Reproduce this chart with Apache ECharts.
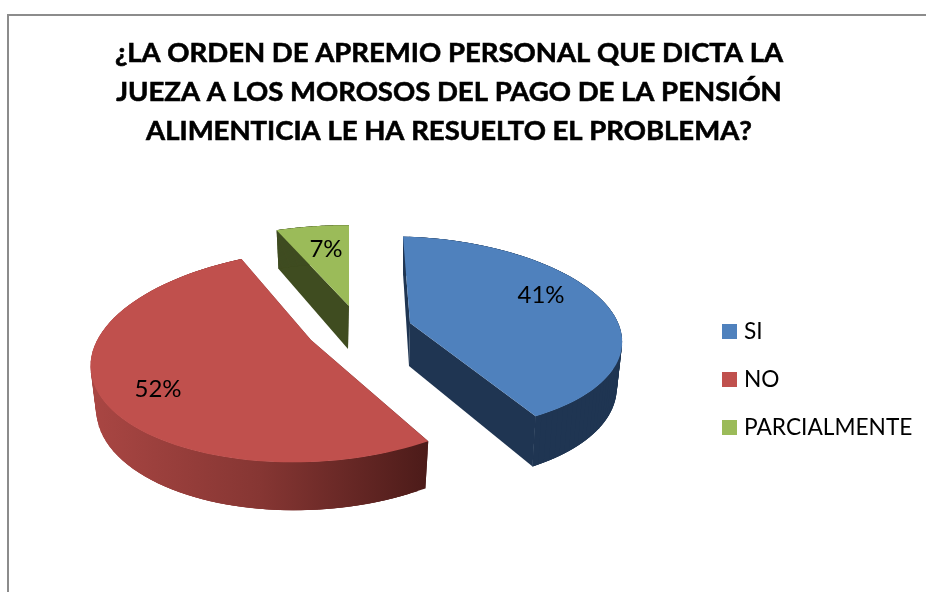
<!DOCTYPE html>
<html><head><meta charset="utf-8">
<style>html,body{margin:0;padding:0;background:#fff}#c{width:926px;height:592px}</style>
<script src="https://cdn.jsdelivr.net/npm/echarts@6/dist/echarts.min.js"></script>
</head><body><div id="c"></div>
<script>
const titleLines = ['¿LA ORDEN DE APREMIO PERSONAL QUE DICTA LA','JUEZA A LOS MOROSOS DEL PAGO DE LA PENSIÓN','ALIMENTICIA LE HA RESUELTO EL PROBLEMA?'];
const categories = ['SI','NO','PARCIALMENTE'];
const values = [41,52,7];

const total = values.reduce((a,b)=>a+b,0);
const START = 0, FONT = 'Lato, "Open Sans", sans-serif';
// projection and styling per slice
const geo = [
 {cx:410,cy:323,rx:210,ry:96,p:.11,shear:-7,tilt:5,warp:.95,d:45,top:'#4f81bd',side:'#1f3552',lx:541,ly:295},
 {cx:311,cy:340,rx:218,ry:103.6,p:.151,shear:0,tilt:-10,warp:.83,d:42,top:'#c0504d',
  side:{type:'linear',x:92,y:0,x2:428,y2:0,global:true,colorStops:[{offset:0,color:'#a94643'},{offset:.5,color:'#863633'},{offset:1,color:'#4c1b19'}]},lx:158,ly:389},
 {cx:349,cy:306,rx:222,ry:93,p:.15,shear:0,tilt:0,warp:.85,d:44,top:'#9bbb59',side:'#3f4c20',lx:326,ly:249}
];
function proj(g,theta,lower){
  let u=Math.sin(theta)*g.warp, v=Math.cos(theta);
  const n=Math.hypot(u,v); u/=n; v/=n;
  const w=1+g.p*v;
  let dx=g.rx*u/w+g.shear*v, dy=-g.ry*v/w+g.tilt*u;
  if(lower){dx*=.975; dy+=g.d-6*v;}
  return [g.cx+dx,g.cy+dy];
}
function sliceRender(i){
  return function(){
    const before=values.slice(0,i).reduce((a,b)=>a+b,0);
    const a0=(START+before/total*360)*Math.PI/180, a1=(START+(before+values[i])/total*360)*Math.PI/180;
    const g=geo[i], N=80, up=[], lo=[];
    for(let k=0;k<=N;k++){const t=a0+(a1-a0)*k/N; up.push(proj(g,t,false)); lo.push(proj(g,t,true));}
    const c=[g.cx,g.cy], cl=[g.cx-1,g.cy+43];
    const fill=g.side;
    const children=[
      {type:'polygon',shape:{points:[c,up[0],lo[0],cl]},style:{fill}},
      {type:'polygon',shape:{points:[c,up[N],lo[N],cl]},style:{fill}}
    ];
    for(let k=0;k<N;k++){
      const e=Math.min(N,k+3);
      children.push({type:'polygon',shape:{points:[up[k],up[e],lo[e],lo[k]]},style:{fill}});
    }
    children.push(
      {type:'polygon',shape:{points:[c].concat(up)},style:{fill:g.top}},
      {type:'text',style:{text:values[i]+'%',x:g.lx,y:g.ly,align:'center',verticalAlign:'middle',font:'24px '+FONT,fill:'#000'}}
    );
    return {type:'group',children};
  };
}
const chart=echarts.init(document.getElementById('c'),null,{renderer:'canvas'});
chart.setOption({
  animation:false,
  backgroundColor:'#fff',
  title:{text:titleLines.join('\n'),left:444,top:29,textAlign:'center',
    textStyle:{fontFamily:FONT,fontWeight:'bold',fontSize:27.5,lineHeight:39,color:'#000',textBorderColor:'#000',textBorderWidth:.6}},
  legend:{orient:'vertical',left:717,top:315,itemWidth:15,itemHeight:15,itemGap:25,icon:'rect',
    data:categories,textStyle:{fontFamily:FONT,fontSize:22.7,color:'#000',padding:[0,0,0,2]}},
  graphic:[{type:'polyline',silent:true,shape:{points:[[8,592],[8,15],[926,15]]},style:{stroke:'#8c8c8c',lineWidth:2,fill:null}}],
  series:categories.map((name,i)=>({type:'custom',name,coordinateSystem:'none',
    itemStyle:{color:geo[i].top},data:[[values[i]]],renderItem:sliceRender(i),silent:true}))
});
</script></body></html>
